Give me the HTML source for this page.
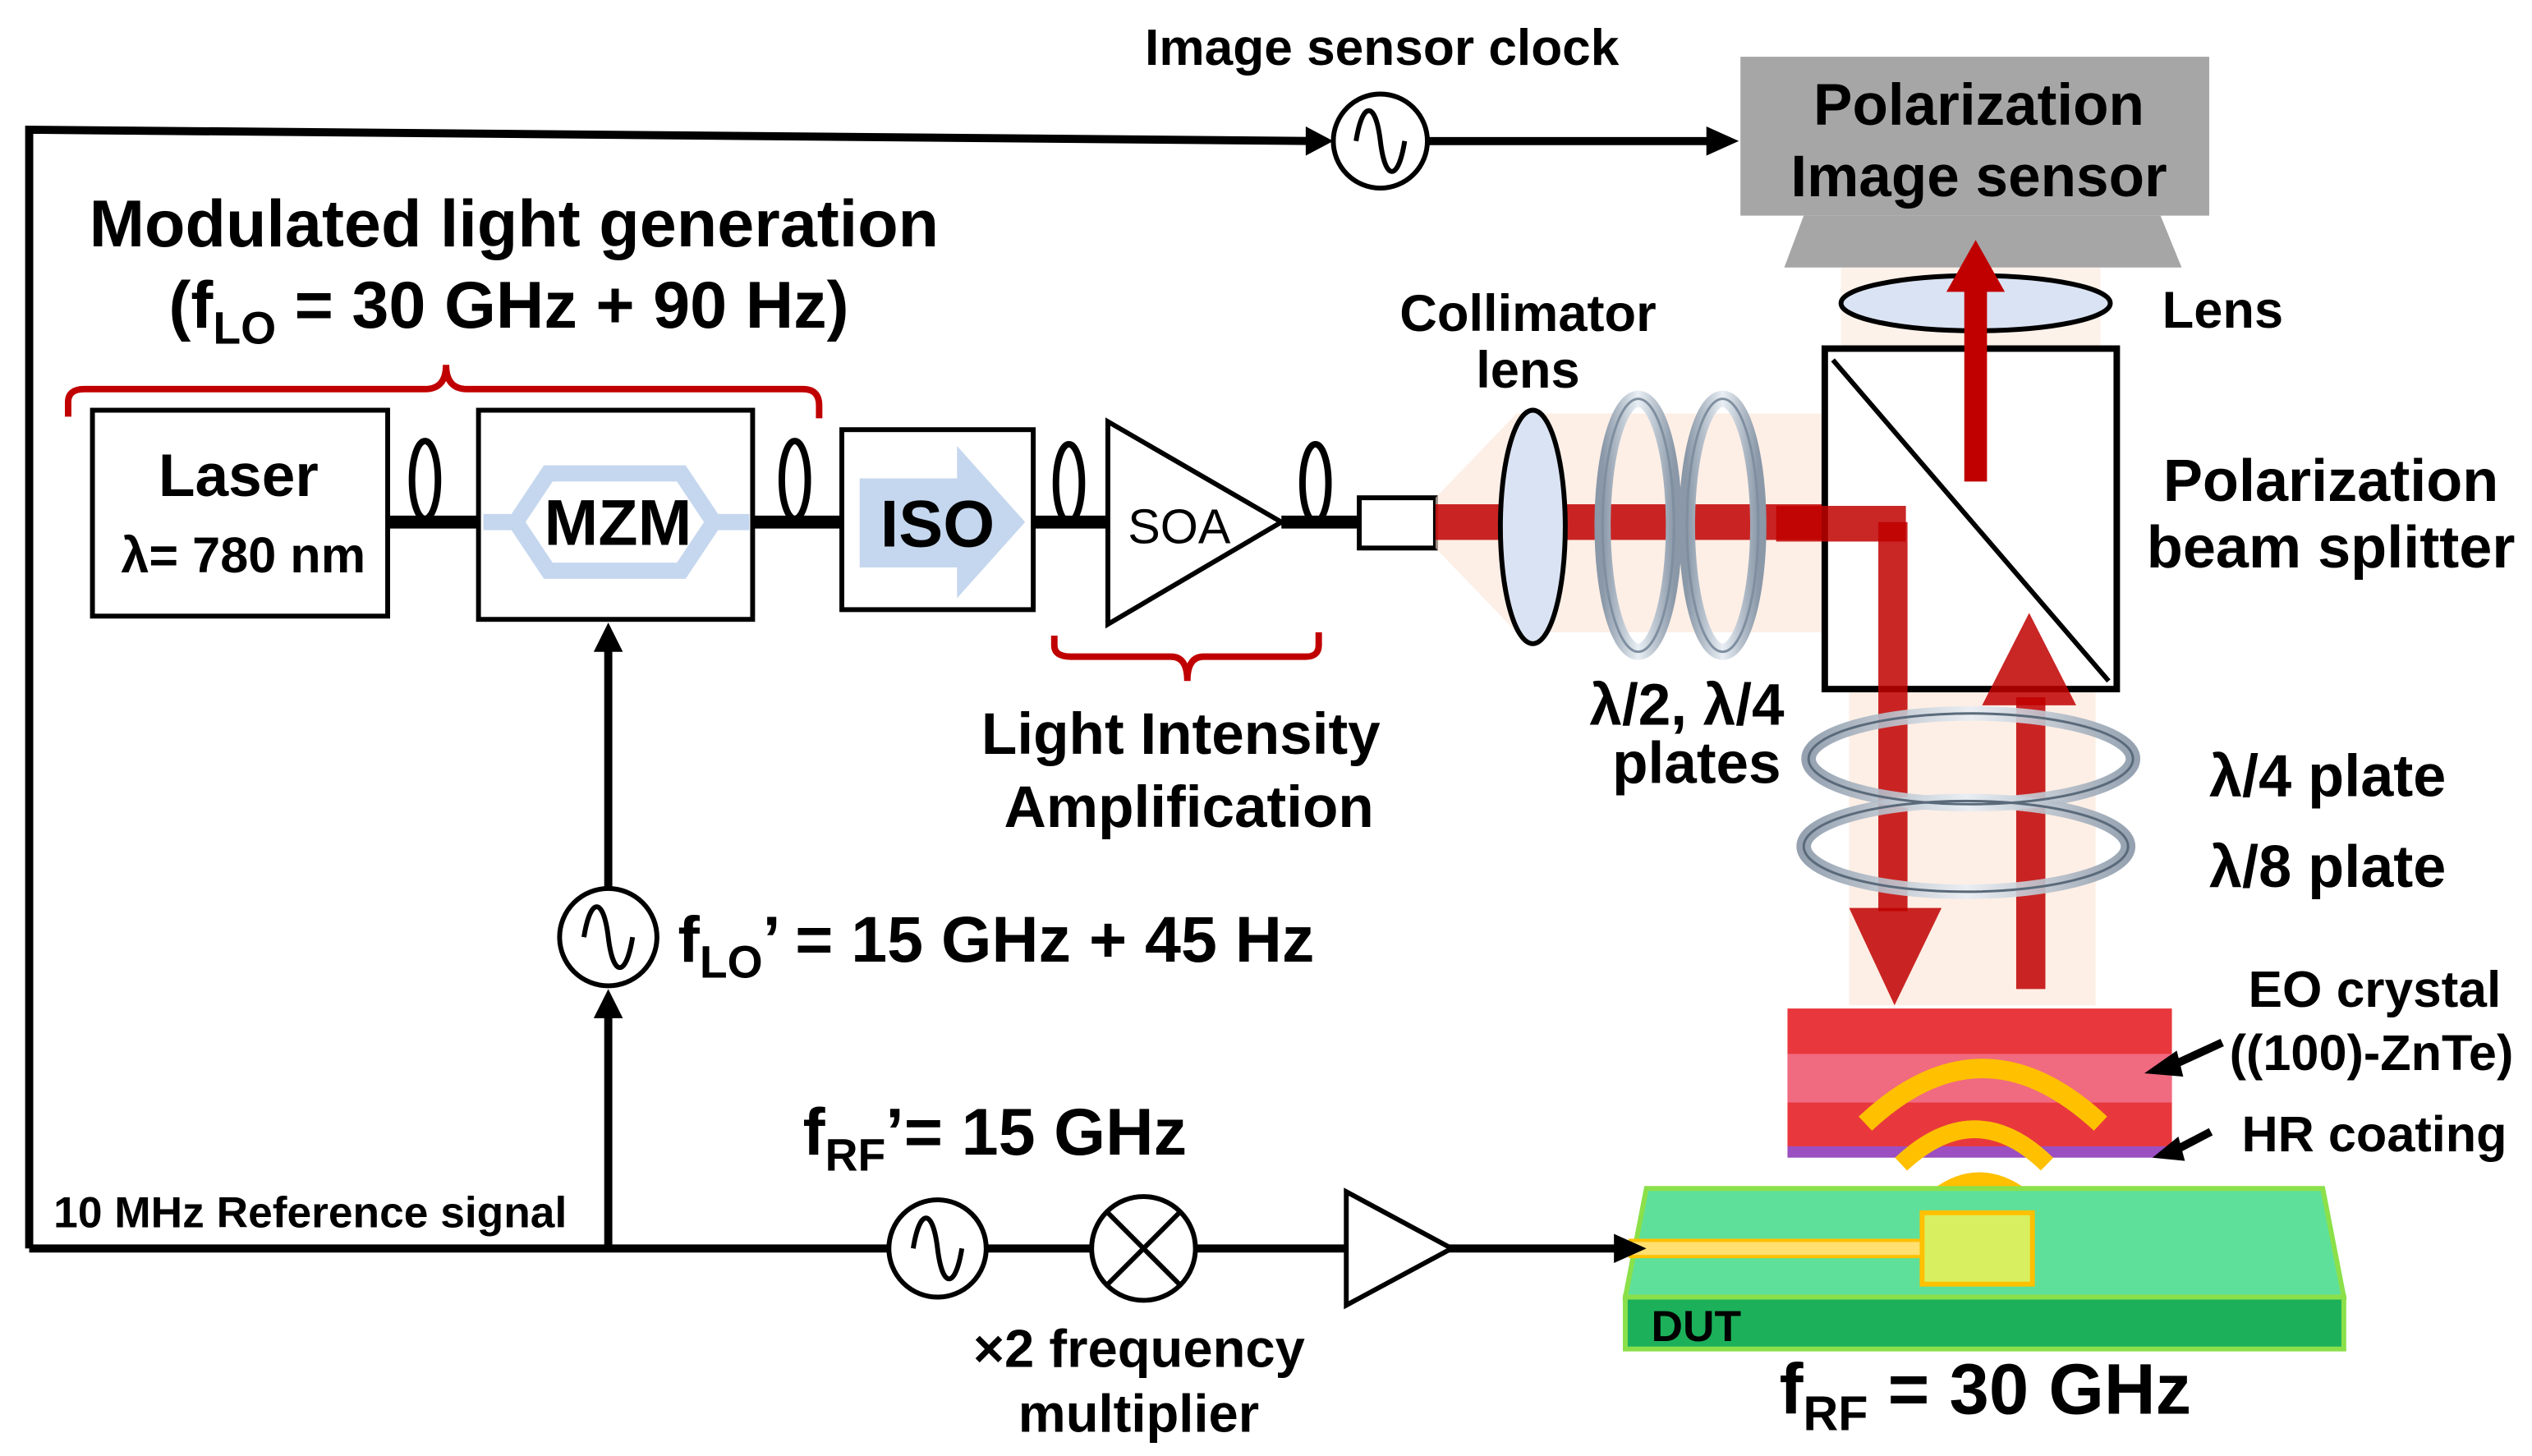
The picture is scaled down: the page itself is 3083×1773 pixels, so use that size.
<!DOCTYPE html>
<html><head><meta charset="utf-8"><style>
html,body{margin:0;padding:0;background:#fff;}
svg{display:block;}
text{font-family:"Liberation Sans",sans-serif;font-weight:bold;fill:#000;}
</style></head><body>
<svg width="3083" height="1773" viewBox="0 0 1561 898" preserveAspectRatio="none" xmlns="http://www.w3.org/2000/svg">
<defs>
<linearGradient id="ring" x1="0" x2="1"><stop offset="0" stop-color="#8a98a8"/><stop offset="0.5" stop-color="#e8eef4"/><stop offset="1" stop-color="#8a98a8"/></linearGradient>
</defs>
<!-- top clock line -->
<path d="M18,770 L18,80 L815,87" fill="none" stroke="#000" stroke-width="5"/>
<path d="M805,78 L822,87 L805,96z" fill="#000"/>
<circle cx="851" cy="87" r="29" fill="#fff" stroke="#000" stroke-width="3"/>
<path d="M836,87 C840,62 848,62 851,87 C854,112 862,112 866,87" fill="none" stroke="#000" stroke-width="3"/>
<line x1="880" y1="87" x2="1060" y2="87" stroke="#000" stroke-width="5"/>
<path d="M1052,78 L1072,87 L1052,96z" fill="#000"/>
<text x="852" y="40" font-size="31.5" text-anchor="middle">Image sensor clock</text>
<!-- sensor -->
<rect x="1073" y="35" width="289" height="98" fill="#a6a6a6"/>
<path d="M1112,133 L1332,133 L1345,165 L1100,165z" fill="#a6a6a6"/>
<text x="1220" y="77" font-size="36" text-anchor="middle">Polarization</text>
<text x="1220" y="121" font-size="36" text-anchor="middle">Image sensor</text>
<!-- headings -->
<text x="55" y="152" font-size="41">Modulated light generation</text>
<text x="104" y="202" font-size="41">(f<tspan font-size="28" dy="10">LO</tspan><tspan dy="-10"> = 30 GHz + 90 Hz</tspan>)</text>
<path d="M42,257 L42,248 Q42,240 52,240 L262,240 Q275,240 275,225 Q275,240 288,240 L495,240 Q505,240 505,250 L505,258" fill="none" stroke="#c00000" stroke-width="4"/>
<!-- fiber line -->
<line x1="239" y1="322" x2="295" y2="322" stroke="#000" stroke-width="8"/>
<line x1="464" y1="322" x2="519" y2="322" stroke="#000" stroke-width="8"/>
<line x1="637" y1="322" x2="683" y2="322" stroke="#000" stroke-width="8"/>
<line x1="790" y1="322" x2="838" y2="322" stroke="#000" stroke-width="8"/>
<ellipse cx="262" cy="296" rx="8" ry="24" fill="none" stroke="#000" stroke-width="4"/>
<ellipse cx="490" cy="296" rx="8" ry="24" fill="none" stroke="#000" stroke-width="4"/>
<ellipse cx="659" cy="298" rx="8" ry="24" fill="none" stroke="#000" stroke-width="4"/>
<ellipse cx="811" cy="298" rx="8" ry="24" fill="none" stroke="#000" stroke-width="4"/>
<!-- laser -->
<rect x="57" y="253" width="182" height="127" fill="#fff" stroke="#000" stroke-width="3"/>
<text x="147" y="306" font-size="37" text-anchor="middle">Laser</text>
<text x="150" y="353" font-size="31" text-anchor="middle">λ= 780 nm</text>
<!-- MZM -->
<rect x="295" y="253" width="169" height="129" fill="#fff" stroke="#000" stroke-width="3"/>
<path d="M298,322 L318,322 L338,292 L420,292 L440,322 L462,322 M318,322 L338,352 L420,352 L440,322" fill="none" stroke="#c5d7ee" stroke-width="10"/>
<text x="381" y="336" font-size="40" text-anchor="middle">MZM</text>
<!-- ISO -->
<rect x="519" y="265" width="118" height="111" fill="#fff" stroke="#000" stroke-width="3"/>
<path d="M530,295 L590,295 L590,275 L632,322 L590,369 L590,350 L530,350z" fill="#c5d7ee"/>
<text x="578" y="337" font-size="41" text-anchor="middle">ISO</text>
<!-- SOA -->
<path d="M683,260 L683,385 L790,322z" fill="#fff" stroke="#000" stroke-width="3"/>
<text x="727" y="335" font-size="30" text-anchor="middle" style="font-weight:normal">SOA</text>
<path d="M650,392 L650,398 Q650,405 660,405 L722,405 Q732,405 732,420 Q732,405 742,405 L805,405 Q813,405 813,398 L813,390" fill="none" stroke="#c00000" stroke-width="4"/>
<text x="728" y="465" font-size="36" text-anchor="middle">Light Intensity</text>
<text x="733" y="510" font-size="36" text-anchor="middle">Amplification</text>
<!-- collimator -->
<rect x="838" y="307" width="47" height="31" fill="#fff" stroke="#000" stroke-width="3"/>
<path d="M885,307 L935,255 L1125,255 L1125,390 L935,390 L885,338z" fill="#fbe5d6" opacity="0.6"/>
<rect x="885" y="311" width="300" height="22" fill="#c00000" opacity="0.85"/>
<ellipse cx="945" cy="325" rx="20" ry="72" fill="#dae3f3" stroke="#000" stroke-width="3"/>
<ellipse cx="1010" cy="324" rx="22" ry="78" fill="none" stroke="url(#ring)" stroke-width="10"/>
<ellipse cx="1062" cy="324" rx="22" ry="78" fill="none" stroke="url(#ring)" stroke-width="10"/>
<ellipse cx="1010" cy="324" rx="22" ry="78" fill="none" stroke="#7f8fa0" stroke-width="1.5"/>
<ellipse cx="1062" cy="324" rx="22" ry="78" fill="none" stroke="#7f8fa0" stroke-width="1.5"/>
<text x="942" y="204" font-size="32" text-anchor="middle">Collimator</text>
<text x="942" y="239" font-size="32" text-anchor="middle">lens</text>
<text x="1040" y="447" font-size="36" text-anchor="middle">λ/2, λ/4</text>
<text x="1046" y="483" font-size="36" text-anchor="middle">plates</text>
<!-- PBS -->
<rect x="1135" y="165" width="160" height="60" fill="#fbe5d6" opacity="0.5"/>
<rect x="1140" y="425" width="152" height="195" fill="#fbe5d6" opacity="0.6"/>
<rect x="1125" y="215" width="180" height="210" fill="#fff" stroke="#000" stroke-width="4"/>
<line x1="1130" y1="222" x2="1300" y2="420" stroke="#000" stroke-width="3"/>
<rect x="1095" y="312" width="80" height="22" fill="#c00000" opacity="0.85"/>
<rect x="1158" y="322" width="18" height="240" fill="#c00000" opacity="0.85"/>
<path d="M1140,560 L1197,560 L1168,620z" fill="#c00000" opacity="0.85"/>
<rect x="1243" y="430" width="18" height="180" fill="#c00000" opacity="0.85"/>
<path d="M1222,435 L1280,435 L1251,378z" fill="#c00000" opacity="0.85"/>
<ellipse cx="1218" cy="187" rx="83" ry="17" fill="#dae3f3" stroke="#000" stroke-width="3"/>
<rect x="1211" y="175" width="14" height="122" fill="#c00000"/>
<path d="M1200,180 L1236,180 L1218,148z" fill="#c00000"/>
<text x="1333" y="202" font-size="32">Lens</text>
<text x="1437" y="309" font-size="36.5" text-anchor="middle">Polarization</text>
<text x="1437" y="350" font-size="36.5" text-anchor="middle">beam splitter</text>
<!-- lambda plates rings -->
<ellipse cx="1215" cy="468" rx="100" ry="28" fill="none" stroke="url(#ring)" stroke-width="9" opacity="0.9"/>
<ellipse cx="1212" cy="522" rx="100" ry="28" fill="none" stroke="url(#ring)" stroke-width="9" opacity="0.9"/>
<ellipse cx="1215" cy="468" rx="100" ry="28" fill="none" stroke="#5a6a7a" stroke-width="1.5"/>
<ellipse cx="1212" cy="522" rx="100" ry="28" fill="none" stroke="#5a6a7a" stroke-width="1.5"/>
<text x="1362" y="491" font-size="36.5">λ/4 plate</text>
<text x="1362" y="547" font-size="36.5">λ/8 plate</text>
<!-- EO crystal -->
<rect x="1102" y="622" width="237" height="86" fill="#e8383d"/>
<rect x="1102" y="650" width="237" height="30" fill="#f06a80"/>
<rect x="1102" y="707" width="237" height="7" fill="#9b4fc0"/>
<path d="M1150,693 Q1222,625 1295,693" fill="none" stroke="#ffc000" stroke-width="12"/>
<path d="M1172,718 Q1218,675 1262,718" fill="none" stroke="#ffc000" stroke-width="11"/>
<path d="M1194,738 Q1220,718 1247,738" fill="none" stroke="#ffc000" stroke-width="10"/>
<text x="1464" y="621" font-size="31.5" text-anchor="middle">EO crystal</text>
<text x="1462" y="660" font-size="31" text-anchor="middle">((100)-ZnTe)</text>
<text x="1382" y="710" font-size="31">HR coating</text>
<line x1="1370" y1="643" x2="1333" y2="660" stroke="#000" stroke-width="5"/>
<path d="M1322,662 L1342,648 L1346,664z" fill="#000"/>
<line x1="1363" y1="698" x2="1340" y2="710" stroke="#000" stroke-width="5"/>
<path d="M1327,714 L1343,701 L1347,716z" fill="#000"/>
<!-- DUT -->
<path d="M1015,733 L1432,733 L1445,800 L1002,800z" fill="#5fe09a" stroke="#8be04a" stroke-width="3"/>
<rect x="1002" y="800" width="443" height="32" fill="#1cb05a" stroke="#8be04a" stroke-width="3"/>
<rect x="1005" y="765" width="185" height="10" fill="#ffe070" stroke="#ffc000" stroke-width="2"/>
<rect x="1185" y="748" width="68" height="44" fill="#d8f060" stroke="#ffc000" stroke-width="3"/>
<text x="1018" y="827" font-size="27">DUT</text>
<text x="1097" y="872" font-size="44">f<tspan font-size="30" dy="10">RF</tspan><tspan dy="-10"> = 30 GHz</tspan></text>
<!-- bottom RF chain -->
<line x1="18" y1="770" x2="1005" y2="770" stroke="#000" stroke-width="5"/>
<path d="M995,761 L1015,770 L995,779z" fill="#000"/>
<text x="33" y="757" font-size="27">10 MHz Reference signal</text>
<circle cx="578" cy="770" r="30" fill="#fff" stroke="#000" stroke-width="3"/>
<path d="M563,770 C567,745 575,745 578,770 C581,795 589,795 593,770" fill="none" stroke="#000" stroke-width="3"/>
<circle cx="705" cy="770" r="32" fill="#fff" stroke="#000" stroke-width="3"/>
<path d="M683,748 L727,792 M727,748 L683,792" stroke="#000" stroke-width="3"/>
<path d="M830,735 L830,805 L895,770z" fill="#fff" stroke="#000" stroke-width="3"/>
<text x="495" y="712" font-size="41">f<tspan font-size="28" dy="10">RF</tspan><tspan dy="-10">’= 15 GHz</tspan></text>
<text x="600" y="843" font-size="33">×2 frequency</text>
<text x="702" y="883" font-size="33" text-anchor="middle">multiplier</text>
<!-- LO vertical -->
<line x1="375" y1="770" x2="375" y2="620" stroke="#000" stroke-width="5"/>
<path d="M366,628 L375,610 L384,628z" fill="#000"/>
<circle cx="375" cy="578" r="30" fill="#fff" stroke="#000" stroke-width="3"/>
<path d="M360,578 C364,553 372,553 375,578 C378,603 386,603 390,578" fill="none" stroke="#000" stroke-width="3"/>
<line x1="375" y1="548" x2="375" y2="395" stroke="#000" stroke-width="5"/>
<path d="M366,402 L375,384 L384,402z" fill="#000"/>
<text x="418" y="593" font-size="40">f<tspan font-size="28" dy="10">LO</tspan><tspan dy="-10">’ = 15 GHz + 45 Hz</tspan></text>
</svg>
</body></html>
